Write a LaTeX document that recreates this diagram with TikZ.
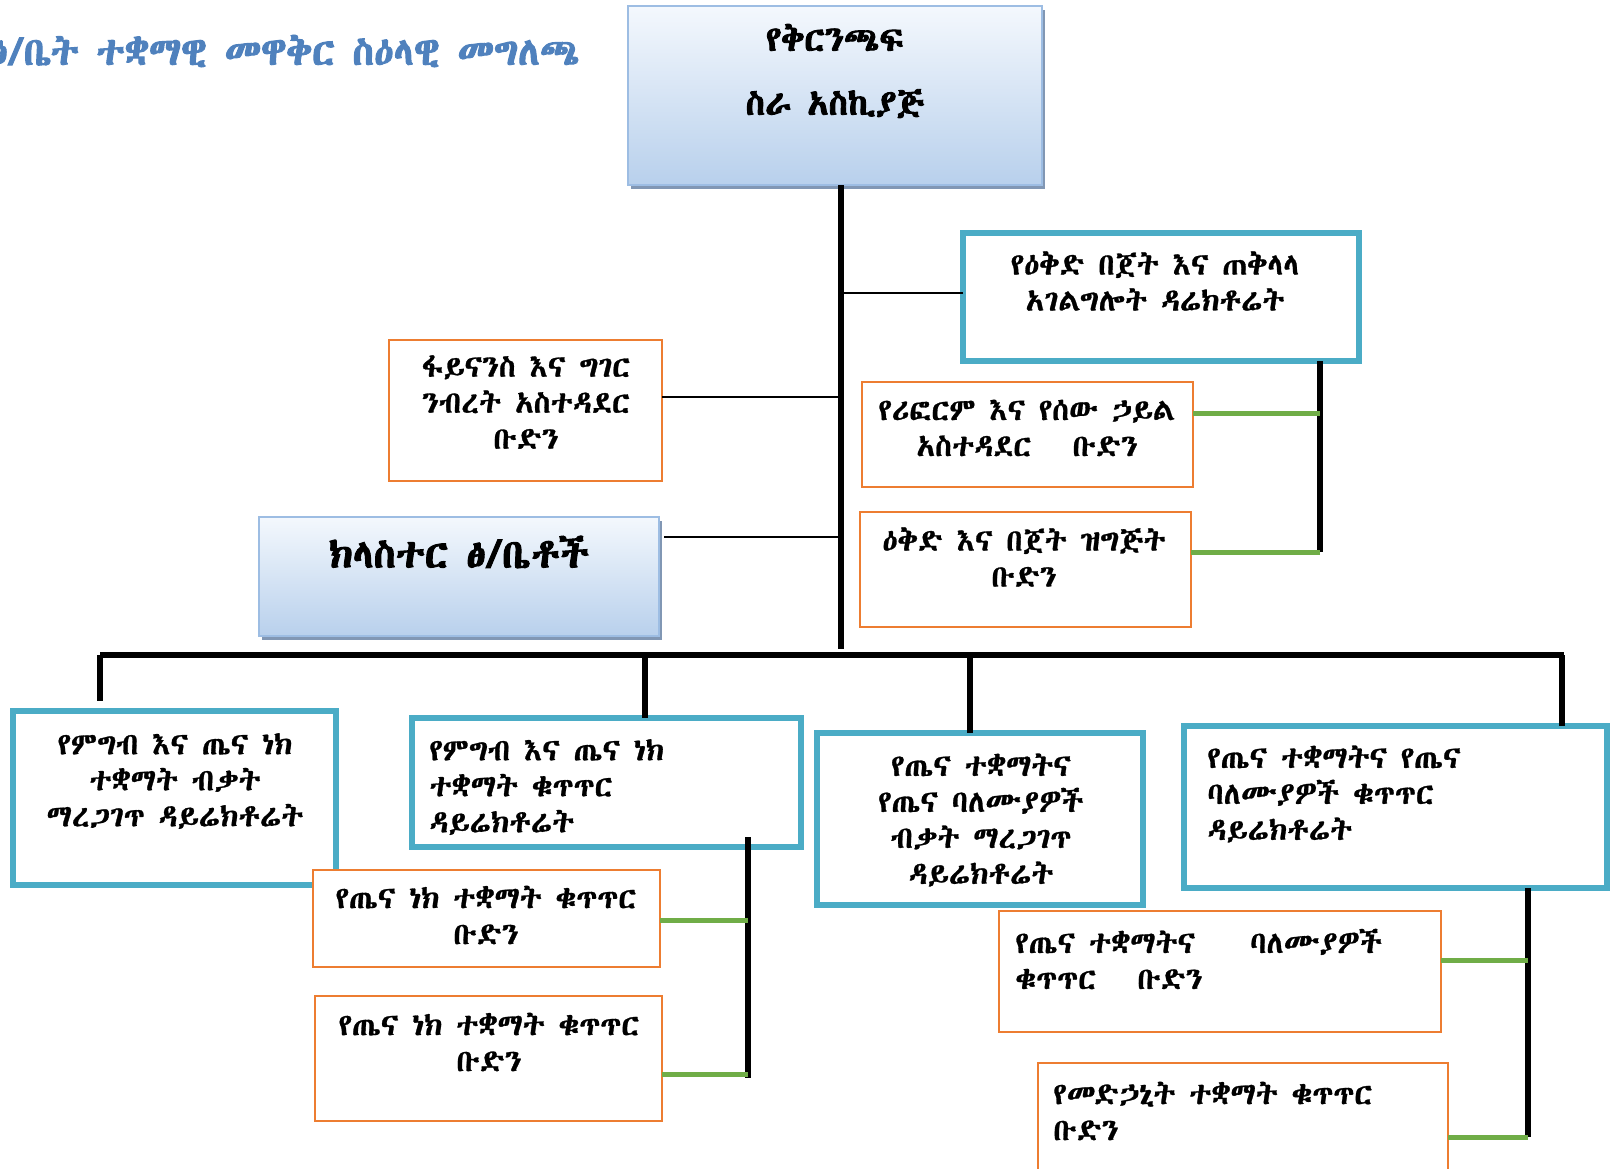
\documentclass[tikz,border=0pt]{standalone}
\usepackage{fontspec}
\usetikzlibrary{shadows}
\def\ethname{DejaVu Sans}
\IfFontExistsTF{Abyssinica SIL}{\def\ethname{Abyssinica SIL}}{%
 \IfFontExistsTF{FreeSerif}{\def\ethname{FreeSerif}}{%
  \IfFontExistsTF{Noto Sans Ethiopic}{\def\ethname{Noto Sans Ethiopic}}{}}}
\newfontfamily\eth[FakeBold=0.9]{\ethname}
\newfontfamily\ethb[FakeBold=2.5]{\ethname}
\definecolor{cBlue}{HTML}{4BACC6}
\definecolor{cOrange}{HTML}{ED7D31}
\definecolor{cGreen}{HTML}{70AD47}
\definecolor{cTitle}{HTML}{4F81BD}
\definecolor{cGradTop}{HTML}{F4F8FD}
\definecolor{cGradBot}{HTML}{B8D0EC}
\definecolor{cGradBorder}{HTML}{9DBDE3}
\definecolor{cShadow}{HTML}{8197B4}
\tikzset{
  boxat/.style args={#1,#2,#3,#4}{anchor=north west, at={(#1,#2)},
    minimum width={(#3-#1)*0.5pt}, minimum height={(#4-#2)*0.5pt},
    inner sep=0pt, outer sep=0pt, rectangle},
  bluebox/.style={draw=cBlue, line width=3.2pt, fill=white},
  orangebox/.style={draw=cOrange, line width=1.3pt, fill=white},
  gradbox/.style={draw=cGradBorder, line width=1pt, top color=cGradTop, bottom color=cGradBot,
    drop shadow={shadow xshift=1.5pt, shadow yshift=-1.8pt, fill=cShadow, opacity=1}},
  txt/.style={font=\eth\fontsize{15.3}{18}\selectfont, align=center, inner sep=0pt},
  ltxt/.style={font=\eth\fontsize{15.3}{18}\selectfont, align=left, inner sep=0pt, anchor=west},
  heavy/.style={draw=black, line width=3pt},
  bus/.style={draw=black, line width=2.6pt},
  thin/.style={draw=black, line width=1pt},
  grn/.style={draw=cGreen, line width=2.5pt},
}
\begin{document}
\begin{tikzpicture}[x=0.5pt,y=-0.5pt]
\useasboundingbox (0,0) rectangle (1610,1168);
\clip (0,0) rectangle (1610,1168);

% title
\node[font=\ethb\fontsize{19.5}{22}\selectfont, text=cTitle, anchor=east, inner sep=0pt] (title) at (580,51) {ፅ/ቤት ተቋማዊ መዋቅር ስዕላዊ መግለጫ};

% boxes
\node[gradbox, boxat={628,6,1042,185}] (top) {};
\node[font=\ethb\fontsize{17.5}{32}\selectfont, align=center, inner sep=0pt] (topT) at (835,71) {የቅርንጫፍ\\ስራ አስኪያጅ};

\node[bluebox, boxat={963,233,1359,361}] (plan) {};
\node[txt] (planT) at (1155,281) {የዕቅድ በጀት እና ጠቅላላ\\አገልግሎት ዳሬክቶሬት};

\node[orangebox, boxat={389,340,662,481}] (fin) {};
\node[txt] (finT) at (526,402) {ፋይናንስ እና ግገር\\ንብረት አስተዳደር\\ቡድን};

\node[orangebox, boxat={862,382,1193,487}] (ref) {};
\node[txt] (refT) at (1027,428) {የሪፎርም እና የሰው ኃይል\\አስተዳደር \ \ ቡድን};

\node[orangebox, boxat={860,512,1191,627}] (bud) {};
\node[txt] (budT) at (1024,557) {ዕቅድ እና በጀት ዝግጅት\\ቡድን};

\node[gradbox, boxat={259,517,659,636}] (clu) {};
\node[font=\ethb\fontsize{20}{22}\selectfont, inner sep=0pt] (cluT) at (459,552) {ክላስተር ፅ/ቤቶች};

\node[bluebox, boxat={13,711,336,885}] (A) {};
\node[txt] (AT) at (175,781) {የምግብ እና ጤና ነክ\\ተቋማት ብቃት\\ማረጋገጥ ዳይሬክቶሬት};

\node[bluebox, boxat={412,718,801,847}] (B) {};
\node[ltxt] (BT) at (429,787) {የምግብ እና ጤና ነክ\\ተቋማት ቁጥጥር\\ዳይሬክቶሬት};

\node[orangebox, boxat={313,870,660,967}] (C1) {};
\node[txt] (C1T) at (486,915) {የጤና ነክ ተቋማት ቁጥጥር\\ቡድን};

\node[orangebox, boxat={315,996,662,1121}] (C2) {};
\node[txt] (C2T) at (489,1042) {የጤና ነክ ተቋማት ቁጥጥር\\ቡድን};

\node[bluebox, boxat={817,733,1143,905}] (D) {};
\node[txt] (DT) at (981,820) {የጤና ተቋማትና\\የጤና ባለሙያዎች\\ብቃት ማረጋገጥ\\ዳይሬክቶሬት};

\node[bluebox, boxat={1184,726,1607,888}] (E) {};
\node[ltxt] (ET) at (1207,794) {የጤና ተቋማትና የጤና\\ባለሙያዎች ቁጥጥር\\ዳይሬክቶሬት};

\node[orangebox, boxat={999,911,1441,1032}] (F) {};
\node[ltxt] (FT) at (1015,959) {የጤና ተቋማትና \ \ \ ባለሙያዎች\\ቁጥጥር \ \ ቡድን};

\node[orangebox, boxat={1038,1063,1448,1200}] (G) {};
\node[ltxt] (GT) at (1053,1111) {የመድኃኒት ተቋማት ቁጥጥር\\ቡድን};

% junction coordinates
\coordinate (m) at (841,649);
\coordinate (jPlan) at (841,293);
\coordinate (jFin) at (841,397);
\coordinate (jClu) at (841,537);
\coordinate (r1) at (1320,552);
\coordinate (g1) at (1320,413);
\coordinate (bl) at (100,655);
\coordinate (br) at (1564,655);
\coordinate (dB) at (645,655);
\coordinate (dD) at (970,655);
\coordinate (dE) at (1562,655);
\coordinate (vB) at (748,1078);
\coordinate (gB1) at (748,920);
\coordinate (gB2) at (748,1074);
\coordinate (vE) at (1528,1137);
\coordinate (gE1) at (1528,960);
\coordinate (gE2) at (1528,1137);

% main trunk and side connectors
\draw[heavy] (top.south -| m) -- (m);
\draw[thin] (plan.west |- jPlan) -- (jPlan);
\draw[thin] (fin.east |- jFin) -- (jFin);
\draw[thin] ([xshift=2.5pt]clu.east |- jClu) -- (jClu);

% right branch of plan box
\draw[bus] (plan.south -| r1) -- (r1);
\draw[grn] (ref.east |- g1) -- (g1);
\draw[grn] (bud.east |- r1) -- (r1);

% bus
\draw[bus] (bl) -- (br);
\draw[bus] (bl) -- ([yshift=5pt]A.north -| bl);
\draw[bus] (dB) -- (B.north -| dB);
\draw[bus] (dD) -- (D.north -| dD);
\draw[bus] (dE) -- (E.north -| dE);

% B branch
\draw[bus] ([yshift=5pt]B.south -| vB) -- (vB);
\draw[grn] (C1.east |- gB1) -- (gB1);
\draw[grn] (C2.east |- gB2) -- (gB2);

% E branch
\draw[bus] (E.south -| vE) -- (vE);
\draw[grn] (F.east |- gE1) -- (gE1);
\draw[grn] (G.east |- gE2) -- (gE2);
\end{tikzpicture}
\end{document}
